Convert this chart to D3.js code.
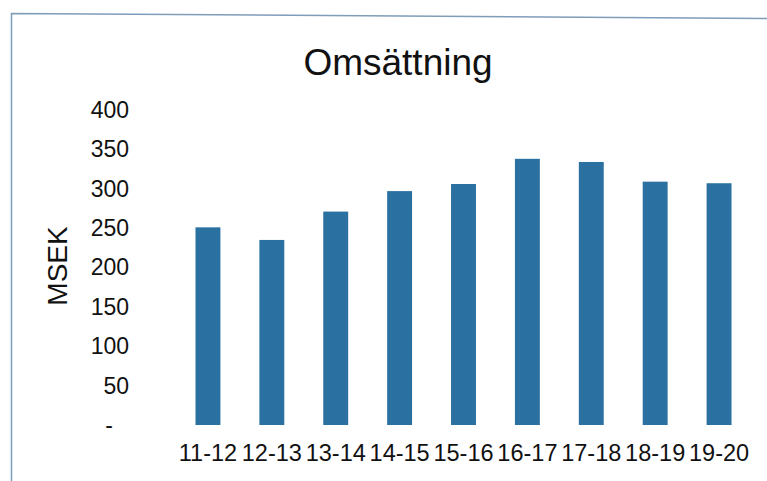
<!DOCTYPE html>
<html>
<head>
<meta charset="utf-8">
<script src="https://cdn.jsdelivr.net/npm/d3@7"></script>
<style>
  body { margin: 0; background: #fff; }
  text { font-family: "Liberation Sans", Arial, sans-serif; fill: #111; }
</style>
</head>
<body>
<svg width="767" height="481"></svg>
<script>
const svg = d3.select('svg')

const categories = ['11-12', '12-13', '13-14', '14-15', '15-16', '16-17', '17-18', '18-19', '19-20']
const values = [251, 235, 271, 297, 306, 338, 334, 309, 307]
const yTicks = [0, 50, 100, 150, 200, 250, 300, 350, 400]

const x = d3.scaleBand()
    .domain(categories)
    .range([176, 751])
    .paddingInner(0.61)
    .paddingOuter(0.305)

const y = d3.scaleLinear()
    .domain([0, 400])
    .range([425, 110])

// chart frame (scanned border, left + top only visible)
svg.append('path')
    .attr('d', 'M11.5,481 L11.5,13.5 L767,18.5')
    .attr('fill', 'none')
    .attr('stroke', '#7e9db8')
    .attr('stroke-width', 1.5)

svg.append('text')
    .attr('x', 398)
    .attr('y', 75)
    .attr('text-anchor', 'middle')
    .style('font-size', '37px')
    .text('Omsättning')

svg.append('g')
    .selectAll('rect')
    .data(values)
    .join('rect')
        .attr('x', (d, i) => x(categories[i]))
        .attr('y', d => y(d))
        .attr('width', x.bandwidth())
        .attr('height', d => y(0) - y(d))
        .attr('fill', '#2a70a0')

const yAxis = svg.append('g')
    .attr('transform', 'translate(140,0)')
    .call(d3.axisLeft(y)
        .tickValues(yTicks)
        .tickSize(0)
        .tickPadding(11)
        .tickFormat(d => d === 0 ? '-' : d))
yAxis.select('.domain').remove()
yAxis.selectAll('text')
    .style('font-size', '23px')
    .attr('font-family', null)
    .attr('dx', d => d === 0 ? -16 : 0)

const xAxis = svg.append('g')
    .attr('transform', 'translate(0,439)')
    .call(d3.axisBottom(x).tickSize(0).tickPadding(5))
xAxis.select('.domain').remove()
xAxis.selectAll('text')
    .style('font-size', '23.5px')
    .attr('font-family', null)

svg.append('text')
    .attr('transform', 'translate(67,266) rotate(-90)')
    .attr('text-anchor', 'middle')
    .style('font-size', '28px')
    .text('MSEK')
</script>
</body>
</html>
